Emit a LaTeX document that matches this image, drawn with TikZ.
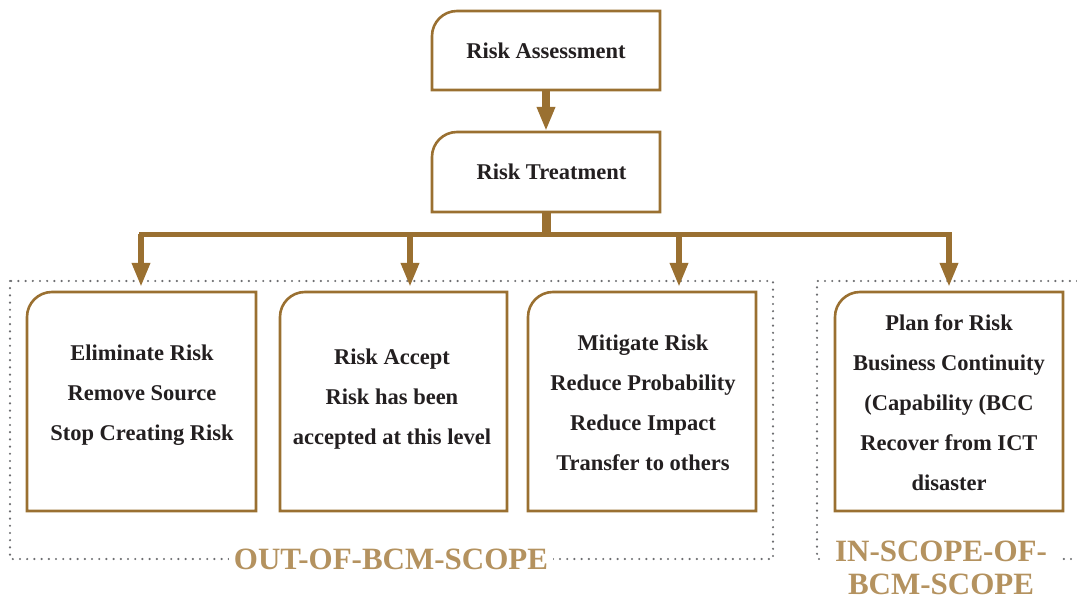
\documentclass[tikz,border=0pt]{standalone}
\usepackage{fontspec}
\setmainfont{Liberation Serif}
\usetikzlibrary{arrows.meta}

\definecolor{bronze}{HTML}{9A7031}
\definecolor{sand}{HTML}{B4925F}
\definecolor{ink}{HTML}{231F20}
\definecolor{dotgray}{HTML}{6D6E71}

\tikzset{
  card/.style={inner sep=0pt, outer sep=0pt, text=ink,
    font=\bfseries\fontsize{22.5}{40}\selectfont},
  cardtext/.style={inner sep=0pt, align=center, text=ink,
    font=\bfseries\fontsize{22.5}{40}\selectfont},
  cardline/.style={draw=bronze, line width=2.6pt},
  shaft/.style={draw=bronze, line width=8pt,
    -{Triangle[width=17pt,length=24pt]}, color=bronze},
  trunk/.style={draw=bronze, line width=9pt},
  bar/.style={draw=bronze, line width=5pt, line cap=rect},
  drop/.style={draw=bronze, line width=6pt,
    -{Triangle[width=17pt,length=24pt]}, color=bronze},
  scopeframe/.style={draw=dotgray, line width=2.4pt, line cap=round,
    dash pattern=on 0pt off 7.2pt},
  scopelabel/.style={text=sand, fill=white, align=center,
    font=\bfseries\fontsize{31}{33}\selectfont}
}

\begin{document}
\begin{tikzpicture}[x=1pt, y=-1pt]
\useasboundingbox (0,0) rectangle (1077,601);

% scope frames
\draw[scopeframe] (10,281) rectangle (773,559);
\draw[scopeframe] (1077,281) -- (817,281) -- (817,559) -- (1077,559);

% top chain
\node[card, minimum width=228pt, minimum height=79pt] (ra) at (546,50.5) {Risk Assessment};
\node[card, minimum width=228pt, minimum height=80pt] (rt) at (546,172) {\hspace*{11pt}Risk Treatment};

% treatment options
\node[card, minimum width=229pt, minimum height=219pt] (b1) at (141.5,401.5) {};
\node[card, minimum width=227pt, minimum height=219pt] (b2) at (393.5,401.5) {};
\node[card, minimum width=228pt, minimum height=219pt] (b3) at (642,401.5) {};
\node[card, minimum width=228pt, minimum height=219pt] (b4) at (949,401.5) {};

\foreach \n in {ra,rt,b1,b2,b3,b4}
  \draw[cardline] (\n.south west) [rounded corners=25pt] -- (\n.north west)
    [sharp corners] -- (\n.north east) -- (\n.south east) -- cycle;

\node[cardtext] (t1) at (142,395.5) {Eliminate Risk\\Remove Source\\Stop Creating Risk};
\node[cardtext] (t2) at (392,399) {Risk Accept\\Risk has been\\accepted at this level};
\node[cardtext] (t3) at (643,402.5) {Mitigate Risk\\Reduce Probability\\Reduce Impact\\Transfer to others};
\node[cardtext] (t4) at (949,403) {Plan for Risk\\Business Continuity\\(Capability (BCC\\Recover from ICT\\disaster};

% connectors
\draw[shaft] (ra.south) -- ([yshift=1pt]rt.north);

\coordinate (jc) at (546,234.5);
\coordinate (j1) at (141,234.5);
\coordinate (j2) at (410,234.5);
\coordinate (j3) at (679,234.5);
\coordinate (j4) at (949,234.5);

\draw[trunk] (rt.south) -- (jc);
\draw[bar] (j1) -- (j4);
\draw[drop] (j1) -- ([yshift=5pt]j1 |- b1.north);
\draw[drop] (j2) -- ([yshift=5pt]j2 |- b2.north);
\draw[drop] (j3) -- ([yshift=5pt]j3 |- b3.north);
\draw[drop] (j4) -- ([yshift=5pt]j4 |- b4.north);

% scope labels
\node[scopelabel, inner xsep=5pt, inner ysep=2pt] (outlbl) at (391,559) {OUT-OF-BCM-SCOPE};
\node[scopelabel, inner xsep=13pt, inner ysep=0pt] (inlbl) at (941,568) {IN-SCOPE-OF-\\BCM-SCOPE};
\end{tikzpicture}
\end{document}
